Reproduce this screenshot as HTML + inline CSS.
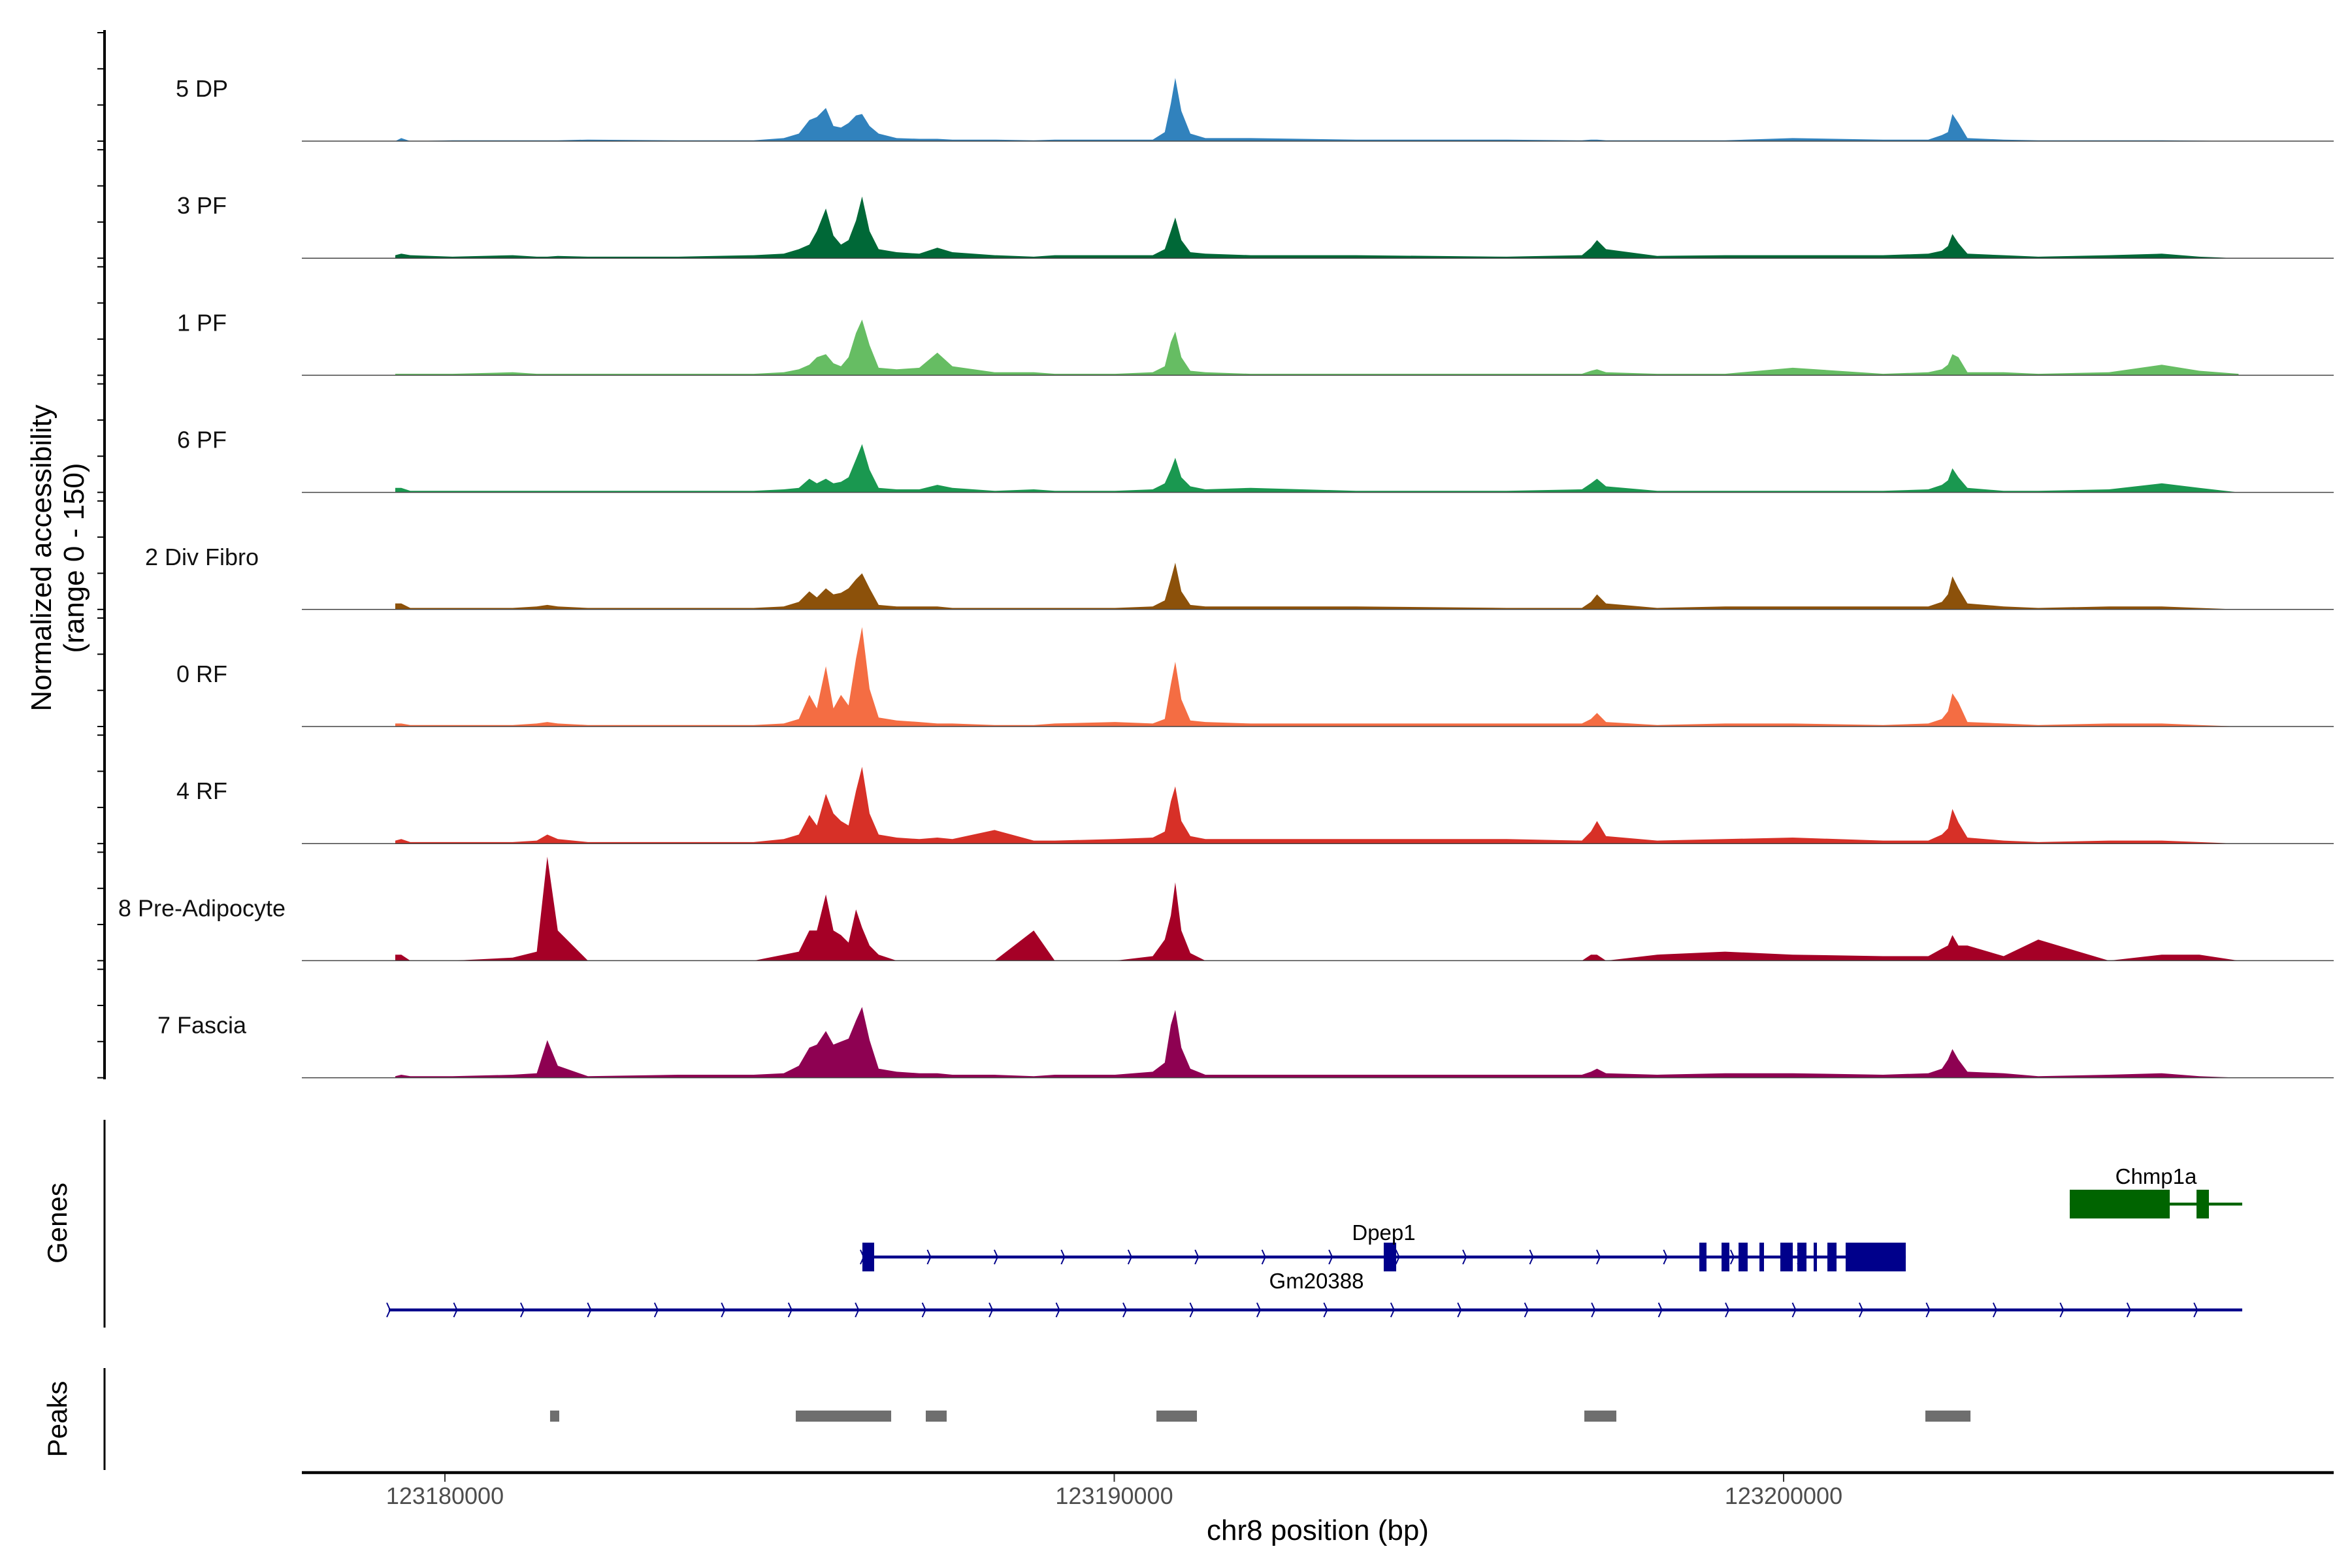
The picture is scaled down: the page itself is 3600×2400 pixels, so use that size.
<!DOCTYPE html>
<html><head><meta charset="utf-8"><title>Coverage plot</title>
<style>html,body{margin:0;padding:0;background:#fff;}svg{display:block;font-family:"Liberation Sans",Arial,sans-serif;}</style>
</head><body>
<svg id="chart" width="3600" height="2400" viewBox="0 0 3600 2400" xmlns="http://www.w3.org/2000/svg">
<g id="tracks"></g>
<g id="genes"></g>
<g id="peaks"></g>
<g id="axes"></g>
</svg>
<script>
const regionStart = 123180000;
const gridOffsets = [-742,-652,-517,112,1012,1372,1530,1687,2137,3487,4612,5062,5287,5445,5557,5692,5805,5917,6030,6142,6232,6345,6480,6750,7087,7357,7582,8212,8797,9112,10012,10575,10755,10845,10912,11002,11137,11362,12037,13612,15862,16987,17122,17212,17347,18112,19125,20137,21487,22162,22365,22455,22522,22612,22747,23287,23805,24862,25650,26212,26797];
const trackNames = ["5 DP","3 PF","1 PF","6 PF","2 Div Fibro","0 RF","4 RF","8 Pre-Adipocyte","7 Fascia"];
const trackColors = ["#3182BD","#006837","#66BD63","#1A9850","#8C510A","#F46D43","#D73027","#A50026","#8E0152"];
const dp5 = [0,2,0,0.5,0.5,0.5,0.5,0.5,1,0.5,0.5,2,5,14,16,22,10,9,12,17,18,10,5,2,1.5,1.5,1,1,0.5,1,1,1,6,25,42,20,5,2,2,1,1,0.5,1,1,0.5,0.5,0.5,2,1,1,4,6,18,12,2,1,0.5,0.5,0.5,0.3,0];
const pf3 = [2,3,2,1,2,1,1,1.5,1,1,2,3,6,9,18,33,15,9,12,25,41,18,6,4,3,7,4,2,1,2,2,2,6,18,27,12,4,3,2,2,1,2,7,12,6,1.5,2,2,2,3,5,8,16,10,3,2,1,2,3,1,0];
const pf1 = [1,1,1,1,2,1,1,1,1,1,1,2,4,7,12,14,8,6,12,28,37,20,5,4,5,15,6,2,2,1,1,2,6,22,29,12,3,2,1,1,1,1,3,4,2,1,1,5,1,2,4,7,14,12,2,2,1,2,7,3,1];
const pf6 = [3,3,1,1,1,1,1,1,1,1,1,2,3,9,6,9,6,7,10,22,32,15,3,2,2,5,3,1,2,1,1,2,6,15,23,10,4,2,3,1,1,2,6,9,4,1,1,1,1,2,5,8,16,10,3,1,1,2,6,3,0];
const divFibro2 = [4,4,1,1,1,2,3,2,1,1,1,2,5,12,8,14,10,11,14,20,24,14,3,2,2,2,1,1,1,1,1,2,6,20,31,12,3,2,2,2,1,1,5,10,4,1,2,2,2,2,5,10,22,14,4,2,1,2,2,1,0];
const rf0 = [2,2,1,1,1,2,3,2,1,1,1,2,5,21,12,40,12,21,14,45,66,25,6,4,3,2,2,1,1,2,3,2,5,28,43,18,4,3,2,2,2,2,5,9,3,1,2,2,1,2,5,10,22,16,3,2,1,2,2,1,0];
const rf4 = [2,3,1,1,1,2,6,3,1,1,1,3,6,19,12,33,20,15,12,35,51,20,6,4,3,4,3,9,2,2,3,4,8,28,38,15,5,3,3,3,3,2,8,15,5,2,3,4,2,2,6,10,23,14,4,2,1,2,2,1,0];
const preAdipo8 = [4,4,0,0,2,6,69,20,0,0,0,4,6,20,20,44,20,17,12,34,22,10,4,0,0,0,0,0,20,0,0,3,14,30,52,20,5,0,0,0,0,0,4,4,0,4,6,4,3,3,8,10,17,10,10,3,14,0,4,4,0];
const fascia7 = [1,2,1,1,2,3,25,8,1,2,2,3,8,20,22,31,22,24,26,38,47,25,6,4,3,3,2,2,1,2,2,4,10,35,45,20,6,2,2,2,2,2,4,6,3,2,3,3,2,3,6,12,19,12,4,3,1,2,3,1,0];
const trackValues = [dp5,pf3,pf1,pf6,divFibro2,rf0,rf4,preAdipo8,fascia7];
const xTicks = [123180000,123190000,123200000];
const xTickLabels = ["123180000","123190000","123200000"];
const peakStarts = [1571,5242,7184,10630,17023,22118];
const peakEnds = [1708,6667,7496,11235,17501,22792];
const dpep1Exons = [[6237,6413],[14026,14212],[18741,18848],[19073,19190],[19327,19463],[19639,19707],[19951,20137],[20205,20342],[20449,20498],[20654,20791],[20927,21825]];
const chmp1aExons = [[24275,25769],[26169,26354]];
const geneSpans = {Dpep1:[6237,21825], Gm20388:[-839,26852], Chmp1a:[24275,26852]};

const NS = "http://www.w3.org/2000/svg";
function mk(tag, attrs, parent){const e=document.createElementNS(NS,tag);for(const k in attrs)e.setAttribute(k,attrs[k]);parent.appendChild(e);return e;}
function x(off){return 681 + off*0.10245;}
const baseline0 = 216, spacing = 179.2, panelH = 166, yMax = 72;
function y(i,v){return baseline0 + i*spacing - v/yMax*panelH;}

const tracks = document.getElementById('tracks');
trackNames.forEach((name,i)=>{
  const g = mk('g',{},tracks);
  
  
  const vals = trackValues[i];
  let d = 'M'+x(gridOffsets[0]).toFixed(1)+','+y(i,0);
  vals.forEach((v,j)=>{ d += ' L'+x(gridOffsets[j]).toFixed(1)+','+y(i,v).toFixed(1); });
  d += ' L'+x(gridOffsets[gridOffsets.length-1]).toFixed(1)+','+y(i,0)+' Z';
  const p = mk('path',{d:d,fill:trackColors[i],stroke:'none'},g);
  
  
  const bl = mk('line',{x1:462,x2:3572,y1:y(i,0),y2:y(i,0),stroke:'#444','stroke-width':1.5},g);
  
  
  const t = mk('text',{x:309,y:y(i,0)-80+12,'text-anchor':'middle','font-size':36,fill:'#111'},g);
  t.textContent = name;
  
  
});

const axes = document.getElementById('axes');
const ya = mk('line',{x1:160,x2:160,y1:46,y2:1652,stroke:'#000','stroke-width':4},axes);


for(let i=0;i<trackNames.length;i++){
  for(let k=0;k<4;k++){
    const ty = baseline0 + i*spacing - panelH + k*panelH/3;
    const tk = mk('line',{x1:149,x2:160,y1:ty,y2:ty,stroke:'#000','stroke-width':2},axes);
    
    
  }
}
const yt = mk('text',{transform:'translate(78,854) rotate(-90)','text-anchor':'middle','font-size':44,fill:'#000'},axes);


const ts1 = mk('tspan',{x:0,dy:0},yt); ts1.textContent='Normalized accessibility';
const ts2 = mk('tspan',{x:0,dy:50},yt); ts2.textContent='(range 0 - 150)';

const genes = document.getElementById('genes');
const ga = mk('line',{x1:160,x2:160,y1:1714,y2:2032,stroke:'#000','stroke-width':3},genes);


const gl = mk('text',{transform:'translate(102,1872) rotate(-90)','text-anchor':'middle','font-size':42,fill:'#000'},genes);
gl.textContent='Genes';



function drawGene(name, span, exons, cy, color, labelX, labelY, chevrons){
  const g = mk('g',{},genes);
  
  
  mk('line',{x1:x(span[0]),x2:x(span[1]),y1:cy,y2:cy,stroke:color,'stroke-width':4.5},g);
  if(chevrons){
    for(let c=span[0]; c<=span[1]+1; c+=1000){
      const cx = x(c);
      mk('polyline',{points:(cx-3)+','+(cy-11)+' '+(cx+2)+','+cy+' '+(cx-3)+','+(cy+11),fill:'none',stroke:color,'stroke-width':2},g);
    }
  }
  exons.forEach(e=>{
    const r = mk('rect',{x:x(e[0]),y:cy-22,width:Math.max(3,x(e[1])-x(e[0])),height:44,fill:color},g);
    
    
  });
  const t = mk('text',{x:labelX,y:labelY,'text-anchor':'middle','font-size':33,fill:'#000'},g);
  t.textContent = name;
  
  
}
drawGene('Gm20388', geneSpans.Gm20388, [], 2005, '#00008B', 2015, 1972, true);
drawGene('Dpep1', geneSpans.Dpep1, dpep1Exons, 1924, '#00008B', 2118, 1898, true);
drawGene('Chmp1a', geneSpans.Chmp1a, chmp1aExons, 1843, '#006400', 3300, 1812, false);

const peaks = document.getElementById('peaks');
const pa = mk('line',{x1:160,x2:160,y1:2094,y2:2250,stroke:'#000','stroke-width':3},peaks);


const pl = mk('text',{transform:'translate(102,2172) rotate(-90)','text-anchor':'middle','font-size':42,fill:'#000'},peaks);
pl.textContent='Peaks';


peakStarts.forEach((s,i)=>{
  const r = mk('rect',{x:x(s),y:2159,width:x(peakEnds[i])-x(s),height:17,fill:'#6E6E6E'},peaks);
  
  
});

const xa = mk('line',{x1:462,x2:3572,y1:2254,y2:2254,stroke:'#000','stroke-width':4.5},axes);


xTicks.forEach((t,i)=>{
  const tx = x(t-regionStart);
  const tk = mk('line',{x1:tx,x2:tx,y1:2256,y2:2268,stroke:'#333','stroke-width':2},axes);
  
  
  const tl = mk('text',{x:tx,y:2302,'text-anchor':'middle','font-size':36,fill:'#4D4D4D'},axes);
  tl.textContent = xTickLabels[i];
  
  
});
const xt = mk('text',{x:2017,y:2357,'text-anchor':'middle','font-size':44,fill:'#000'},axes);
xt.textContent='chr8 position (bp)';


</script>
</body></html>
